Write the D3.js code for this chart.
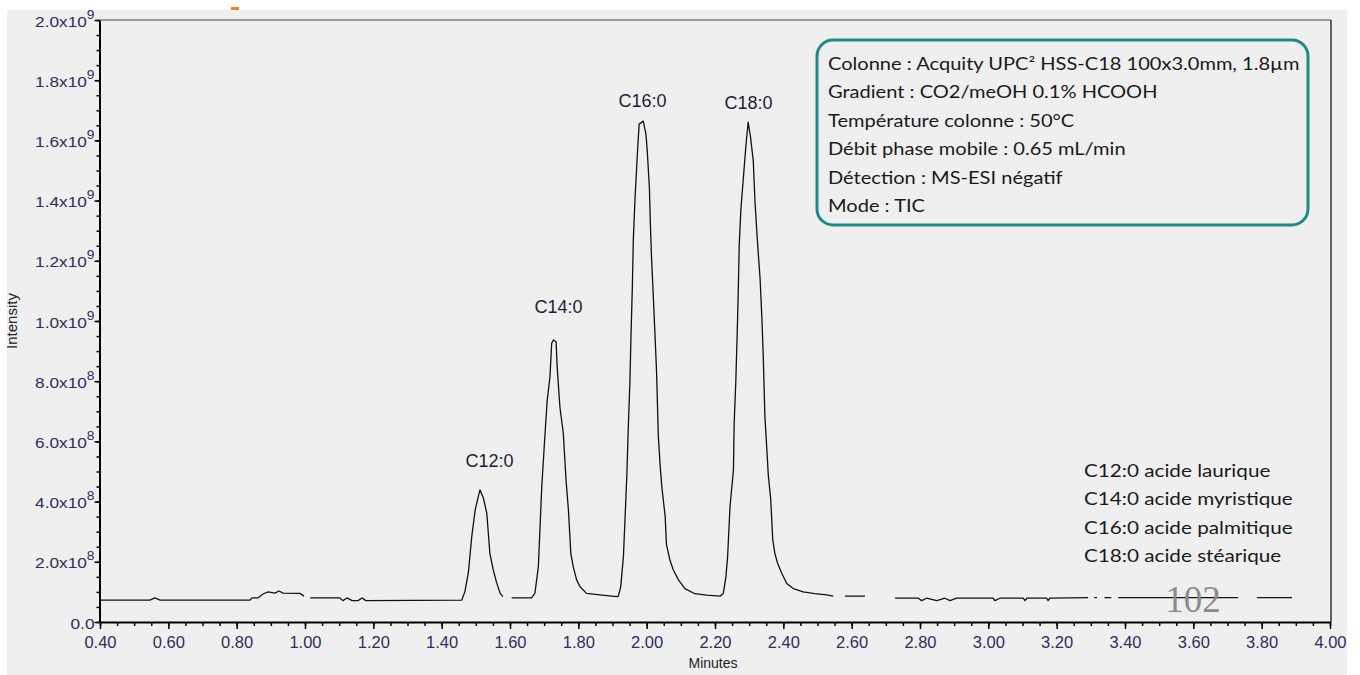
<!DOCTYPE html>
<html>
<head>
<meta charset="utf-8">
<script src="https://d3js.org/d3.v7.min.js"></script>
<style>
  body { margin: 0; background: #fff; }
  svg { display: block; }
</style>
</head>
<body>
<svg id="chart" width="1360" height="675"></svg>
<script>
// retention time (min) and TIC intensity (x10^8); null = break in the trace
var minutes = [
  0.40, 0.546, 0.561, 0.576, 0.839, 0.845, 0.862, 0.877, 0.892, 0.912, 0.924, 0.936, 0.985, 0.997, 1.005,
  1.015, 1.102, 1.111, 1.123, 1.138, 1.155, 1.167, 1.178, 1.459,
  1.468, 1.478, 1.488, 1.498, 1.507, 1.512, 1.522, 1.532, 1.541, 1.551, 1.561, 1.571, 1.579, 1.590,
  1.605, 1.663, 1.673, 1.683, 1.693, 1.702, 1.709, 1.717, 1.722, 1.727, 1.735, 1.738, 1.746, 1.756,
  1.764, 1.771, 1.778, 1.785, 1.795, 1.805, 1.824, 1.863, 1.912,
  1.917, 1.924, 1.932, 1.937, 1.942, 1.946, 1.951, 1.954, 1.958, 1.961, 1.966, 1.973, 1.978, 1.990,
  1.998, 2.002, 2.008, 2.011, 2.014, 2.019, 2.024, 2.029, 2.034, 2.039, 2.044, 2.054, 2.058, 2.068,
  2.078, 2.093, 2.112, 2.141, 2.176, 2.215,
  2.224, 2.232, 2.237, 2.244, 2.254, 2.256, 2.261, 2.265, 2.268, 2.271, 2.276, 2.283, 2.290, 2.297,
  2.304, 2.312, 2.317, 2.324, 2.332, 2.337, 2.341, 2.346, 2.351, 2.356, 2.363, 2.369, 2.375, 2.383,
  2.395, 2.410, 2.429, 2.458, 2.492, 2.527, 2.546, 2.560,
  2.580, 2.639, 2.650,
  2.727, 2.795, 2.805, 2.819, 2.849, 2.873, 2.888, 2.907, 3.014, 3.019, 3.034, 3.102, 3.107, 3.113,
  3.171, 3.175, 3.180, 3.292, 3.300, 3.310, 3.318, 3.325, 3.340, 3.360, 3.368, 3.380, 3.473, 3.731, 3.750,
  3.786, 3.889, 3.900
];
var intensity = [
  0.73, 0.73, 0.80, 0.73, 0.73, 0.80, 0.80, 0.93, 1.00, 0.96, 1.03, 0.96, 0.95, 0.86, null,
  0.80, 0.80, 0.71, 0.80, 0.71, 0.71, 0.80, 0.71, 0.73,
  1.01, 1.63, 2.83, 3.72, 4.16, 4.39, 4.12, 3.62, 2.29, 1.73, 1.30, 0.96, 0.84, null,
  0.80, 0.80, 0.96, 1.84, 4.50, 6.16, 7.38, 8.15, 9.26, 9.37, 9.31, 8.48, 7.15, 6.27,
  4.72, 3.72, 2.28, 1.84, 1.40, 1.17, 0.95, 0.90, 0.84,
  0.86, 1.16, 2.18, 3.52, 4.88, 6.38, 8.01, 9.44, 11.10, 12.72, 14.09, 15.60, 16.54, 16.64,
  16.21, 15.60, 14.42, 13.19, 12.17, 10.93, 9.63, 8.31, 6.21, 5.27, 4.53, 3.52, 2.57, 2.06,
  1.73, 1.40, 1.11, 0.94, 0.89, 0.86,
  0.94, 1.50, 2.19, 3.85, 5.05, 6.56, 8.02, 9.60, 10.94, 12.56, 13.75, 14.75, 15.76, 16.61,
  16.11, 15.32, 13.97, 12.68, 11.40, 10.15, 8.92, 6.84, 5.88, 4.88, 4.09, 2.74, 2.29, 1.96,
  1.63, 1.28, 1.11, 1.00, 0.94, 0.90, 0.86, null,
  0.86, 0.86, null,
  0.79, 0.79, 0.71, 0.79, 0.71, 0.79, 0.71, 0.79, 0.79, 0.71, 0.79, 0.79, 0.71, 0.79,
  0.79, 0.71, 0.79, 0.81, null, 0.81, 0.81, null, 0.81, 0.81, null, 0.81, 0.81, 0.81, null,
  0.81, 0.81, null
];

var peakNames = ["C12:0", "C14:0", "C16:0", "C18:0"];
var peakLabelTimes = [1.540, 1.742, 1.988, 2.298];
var peakLabelLevels = [5.15, 10.25, 17.1, 17.05];

var xTicks = [0.4, 0.6, 0.8, 1.0, 1.2, 1.4, 1.6, 1.8, 2.0, 2.2, 2.4, 2.6, 2.8, 3.0, 3.2, 3.4, 3.6, 3.8, 4.0];
var yTicks = [0, 2e8, 4e8, 6e8, 8e8, 1e9, 1.2e9, 1.4e9, 1.6e9, 1.8e9, 2e9];
var yTickBase = ["0.0", "2.0x10", "4.0x10", "6.0x10", "8.0x10", "1.0x10", "1.2x10", "1.4x10", "1.6x10", "1.8x10", "2.0x10"];
var yTickExp = ["", "8", "8", "8", "8", "9", "9", "9", "9", "9", "9"];

var infoLines = [
  "Colonne : Acquity UPC² HSS-C18 100x3.0mm, 1.8µm",
  "Gradient : CO2/meOH 0.1% HCOOH",
  "Température colonne : 50°C",
  "Débit phase mobile : 0.65 mL/min",
  "Détection : MS-ESI négatif",
  "Mode : TIC"
];
var legendLines = [
  "C12:0 acide laurique",
  "C14:0 acide myristique",
  "C16:0 acide palmitique",
  "C18:0 acide stéarique"
];

var svg = d3.select("#chart");
var sans = "'Liberation Sans', Arial, sans-serif";
var calibri = "Lato, 'Open Sans', sans-serif";

// page background (scan has a white border)
svg.append("rect").attr("width", 1360).attr("height", 675).attr("fill", "#fff");
svg.append("rect").attr("x", 7).attr("y", 10).attr("width", 1340).attr("height", 665).attr("fill", "#efefef");
svg.append("rect").attr("x", 231).attr("y", 7).attr("width", 8).attr("height", 3).attr("fill", "#e8891e");

var x = d3.scaleLinear().domain([0.4, 4.0]).range([100, 1330]);
var y = d3.scaleLinear().domain([0, 2e9]).range([622, 20]);

// frame top / right
svg.append("line").attr("x1", 99).attr("x2", 1331).attr("y1", 20).attr("y2", 20)
  .attr("stroke", "#808080").attr("stroke-width", 1.5);
svg.append("line").attr("x1", 1331).attr("x2", 1331).attr("y1", 20).attr("y2", 622)
  .attr("stroke", "#333").attr("stroke-width", 1.5);

// x axis: minor + major
var xMinor = d3.range(0.4, 4.0001, 0.05);
svg.append("g").attr("transform", "translate(0,622)")
  .call(d3.axisBottom(x).tickValues(xMinor).tickSize(4).tickSizeOuter(0).tickFormat(""))
  .call(function (g) { g.select(".domain").remove(); g.selectAll("line").attr("stroke", "#000").attr("stroke-width", 1.5); });
var xAxis = svg.append("g").attr("transform", "translate(0,622)")
  .call(d3.axisBottom(x).tickValues(xTicks).tickSize(7).tickSizeOuter(0).tickPadding(7).tickFormat(d3.format(".2f")));
xAxis.select(".domain").attr("stroke", "#000").attr("stroke-width", 2);
xAxis.selectAll("line").attr("stroke", "#000").attr("stroke-width", 1.5);
xAxis.selectAll("text").attr("font-family", sans).attr("font-size", 16.5).attr("fill", "#2e2e5c");

// y axis: minor + major
var yMinor = d3.range(0, 2.0001e9, 0.5e8);
svg.append("g").attr("transform", "translate(99.5,0)")
  .call(d3.axisLeft(y).tickValues(yMinor).tickSize(3).tickSizeOuter(0).tickFormat(""))
  .call(function (g) { g.select(".domain").remove(); g.selectAll("line").attr("stroke", "#000").attr("stroke-width", 1.5); });
var yAxis = svg.append("g").attr("transform", "translate(99.5,0)")
  .call(d3.axisLeft(y).tickValues(yTicks).tickSize(5).tickSizeOuter(0).tickFormat(""));
yAxis.select(".domain").attr("stroke", "#000").attr("stroke-width", 2);
yAxis.selectAll("line").attr("stroke", "#000").attr("stroke-width", 1.5);
yAxis.selectAll(".tick").each(function (d, i) {
  var t = d3.select(this).append("text")
    .attr("transform", "translate(-5,6) scale(1.15,1)")
    .attr("text-anchor", "end")
    .attr("font-family", sans).attr("font-size", 15).attr("fill", "#2e2e5c");
  t.append("tspan").text(yTickBase[i]);
  if (yTickExp[i]) t.append("tspan").attr("dy", -8).attr("font-size", 12).text(yTickExp[i]);
});

// axis titles
svg.append("text").attr("x", 713).attr("y", 668).attr("text-anchor", "middle")
  .attr("font-family", sans).attr("font-size", 14).attr("fill", "#222").text("Minutes");
svg.append("text").attr("transform", "translate(17,321) rotate(-90)").attr("text-anchor", "middle")
  .attr("font-family", sans).attr("font-size", 15).attr("fill", "#222").text("Intensity");
svg.append("rect").attr("x", 0).attr("y", 0).attr("width", 7).attr("height", 675).attr("fill", "#fff");

// trace
var pts = minutes.map(function (m, i) { return { t: m, v: intensity[i] }; });
var line = d3.line()
  .defined(function (d) { return d.v !== null; })
  .x(function (d) { return x(d.t); })
  .y(function (d) { return y(d.v * 1e8); });
svg.append("path").datum(pts).attr("d", line)
  .attr("fill", "none").attr("stroke", "#111").attr("stroke-width", 1.3).attr("stroke-linejoin", "round");

// peak labels
svg.selectAll(".peak").data(peakNames).enter().append("text")
  .attr("class", "peak")
  .attr("x", function (d, i) { return x(peakLabelTimes[i]); })
  .attr("y", function (d, i) { return y(peakLabelLevels[i] * 1e8); })
  .attr("text-anchor", "middle")
  .attr("font-family", sans).attr("font-size", 18).attr("fill", "#1e1e36")
  .text(function (d) { return d; });

// info box
svg.append("rect").attr("x", 817).attr("y", 40).attr("width", 491).attr("height", 185)
  .attr("rx", 16).attr("fill", "none").attr("stroke", "#1e8a83").attr("stroke-width", 3);
svg.selectAll(".info").data(infoLines).enter().append("text")
  .attr("class", "info")
  .attr("transform", function (d, i) { return "translate(828," + (70 + i * 28.4) + ") scale(1.18,1)"; })
  .attr("font-family", calibri).attr("font-size", 17).attr("fill", "#1a1a1a")
  .text(function (d) { return d; });

// compound legend
svg.selectAll(".legend").data(legendLines).enter().append("text")
  .attr("class", "legend")
  .attr("transform", function (d, i) { return "translate(1084," + (477 + i * 28.4) + ") scale(1.15,1)"; })
  .attr("font-family", calibri).attr("font-size", 18).attr("fill", "#1a1a1a")
  .text(function (d) { return d; });

// page number of the scanned document
svg.append("text").attr("x", 1193).attr("y", 612).attr("text-anchor", "middle")
  .attr("font-family", "'Liberation Serif', 'Times New Roman', serif").attr("font-size", 37)
  .attr("fill", "#8a8a8a").text("102");
</script>
</body>
</html>
